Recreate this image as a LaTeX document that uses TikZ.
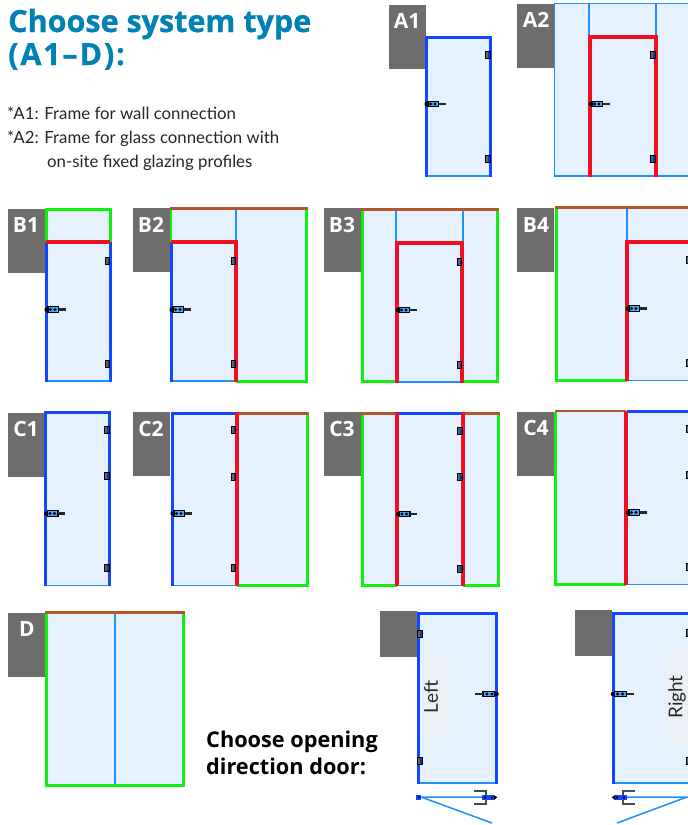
\documentclass[tikz,border=0pt]{standalone}
\usepackage{fontspec}
\setmainfont{Lato}
\newfontfamily\tagfont{Open Sans}
\newfontfamily\titlefont[BoldFeatures={FakeBold=0.8}]{Open Sans}
\definecolor{glass}{HTML}{E5F1FE}
\definecolor{thinblue}{HTML}{1E90FF}
\definecolor{doorblue}{HTML}{1446FF}
\definecolor{framered}{HTML}{F01020}
\definecolor{fixgreen}{HTML}{10F010}
\definecolor{topbrown}{HTML}{B5562A}
\definecolor{taggrey}{HTML}{6E6D6B}
\definecolor{titleblue}{HTML}{0080B4}
\definecolor{notegrey}{HTML}{EBF0F7}
\tikzset{
  x=1pt,y=-1pt,
  tagbox/.style={fill=taggrey,draw=none},
  tagtext/.style={text=white,font=\tagfont\bfseries\fontsize{21}{21}\selectfont,inner sep=0pt,anchor=base},
  pane/.style={fill=glass,draw=none},
  thin line/.style={draw=thinblue,line width=1.3pt},
  door line/.style={draw=doorblue,line width=3pt},
  red line/.style={draw=framered,line width=4pt},
  green line/.style={draw=fixgreen,line width=3pt},
  brown line/.style={draw=topbrown,line width=2.4pt},
  pics/hingepart/.style={code={
    \fill[black!60] (-2.2,-3.6) rectangle (2.2,3.6);
    \fill[doorblue!70!black] (0.4,-3.6) rectangle (2.2,3.6);
    \draw[black,line width=.7pt] (-2.2,-3.6) rectangle (2.2,3.6);
  }},
  pics/handlepart/.style={code={
    \fill[black,rounded corners=1pt] (-1.5,-2) rectangle (4,2);
    \draw[black,line width=1.1pt,fill=thinblue!80] (2,-2.8) rectangle (12.5,2.8);
    \fill[black] (4.5,0) circle (1.6) (9,0) circle (1.6);
    \fill[black!85] (12.5,-1.4) rectangle (19.5,1.4);
  }},
  pics/topview/.style={code={
    \draw[black!70,line width=1.6pt] (23,-6.5) -- (11,-6.5) -- (11,6.5) -- (23,6.5);
    \fill[doorblue] (3,-2.6) rectangle (15,2.6);
    \fill[black] (5,0) circle (1.4) (12,0) circle (1.4) (3,-2.6) -- (0,0) -- (3,2.6) -- cycle;
  }},
}
\begin{document}
\begin{tikzpicture}
\useasboundingbox (0,0) rectangle (688,825);
\clip (0,0) rectangle (688,825);
\fill[white] (0,0) rectangle (688,825);

% heading and notes
\node[anchor=base west,inner sep=0pt,text=titleblue,font=\titlefont\bfseries\fontsize{30.5}{31}\selectfont] (title1) at (8,32) {Choose system type};
\node[anchor=base west,inner sep=0pt,text=titleblue,font=\titlefont\bfseries\fontsize{30.5}{31}\selectfont\addfontfeature{LetterSpace=6}] (title2) at (8,65) {(A1–D):};
\node[anchor=base west,inner sep=0pt,font=\fontsize{16.8}{16.8}\selectfont,text=black!85] (note1) at (7,119) {*A1: Frame for wall connection};
\node[anchor=base west,inner sep=0pt,font=\fontsize{16.8}{16.8}\selectfont,text=black!85] (note2) at (7,143) {*A2: Frame for glass connection with};
\node[anchor=base west,inner sep=0pt,font=\fontsize{16.8}{16.8}\selectfont,text=black!85] (note3) at (47,167) {on-site fixed glazing profiles};
\node[anchor=base west,inner sep=0pt,font=\tagfont\bfseries\fontsize{21.7}{21.7}\selectfont] (ask1) at (206,747) {Choose opening};
\node[anchor=base west,inner sep=0pt,font=\tagfont\bfseries\fontsize{21.7}{21.7}\selectfont] (ask2) at (206,774) {direction door:};

% A1
\fill[tagbox] (389,5) rectangle (425.5,69);
\node[tagtext] (tA1) at (407,28) {A1};
\fill[pane] (426,37) rectangle (490,176);
\draw[thin line] (426,176) -- (490,176);
\draw[door line] (426,176.5) -- (426,37) -- (490,37) -- (490,176.5);
\pic at (488,55) {hingepart};
\pic at (488,158.5) {hingepart};
\pic at (426,104) {handlepart};

% A2
\fill[tagbox] (517,4) rectangle (554,68);
\node[tagtext] (tA2) at (536,27) {A2};
\fill[pane] (554.5,3.5) rectangle (690,176);
\draw[thin line] (690,3.5) -- (554.5,3.5) -- (554.5,176) -- (690,176) (589,3.5) -- (589,37) (656,3.5) -- (656,37);
\draw[red line] (590,177) -- (590,37) -- (655.5,37) -- (655.5,177);
\pic at (653,55) {hingepart};
\pic at (653,159) {hingepart};
\pic at (590,104) {handlepart};

% B1
\fill[tagbox] (8,209) rectangle (45,273);
\node[tagtext] (tB1) at (26,232) {B1};
\fill[pane] (46,209) rectangle (110,381);
\draw[thin line] (46,381) -- (110,381);
\draw[door line] (46,382) -- (46,242) (110,242) -- (110,382);
\draw[green line] (46,242) -- (46,209) -- (110,209) -- (110,242);
\draw[red line] (46,242) -- (110,242);
\pic at (107.5,260.5) {hingepart};
\pic at (107.5,364) {hingepart};
\pic at (46,309.5) {handlepart};

% B2
\fill[tagbox] (133,208) rectangle (170,272);
\node[tagtext] (tB2) at (151,232) {B2};
\fill[pane] (171,209) rectangle (307,381);
\draw[thin line] (236,209) -- (236,242) (171,381) -- (236,381);
\draw[door line] (171,382) -- (171,242);
\draw[green line,line width=2.4pt] (171,242) -- (171,209);
\draw[green line] (236,381) -- (306.5,381) -- (306.5,209);
\draw[brown line] (170,208.5) -- (307.5,208.5);
\draw[red line] (171,242) -- (236,242) -- (236,382);
\pic at (233.5,260.5) {hingepart};
\pic at (233.5,364) {hingepart};
\pic at (171,309.5) {handlepart};

% B3
\fill[tagbox] (324,208) rectangle (361,272);
\node[tagtext] (tB3) at (342,232) {B3};
\fill[pane] (362,210) rectangle (497,382);
\draw[thin line] (396,210) -- (396,242) (463,210) -- (463,242) (397,382) -- (462,382);
\draw[green line] (397,381.5) -- (362,381.5) -- (362,210) (462,381.5) -- (497.5,381.5) -- (497.5,210);
\draw[brown line] (361,209.5) -- (499,209.5);
\draw[red line] (397,383) -- (397,243) -- (462,243) -- (462,383);
\pic at (459.5,261.5) {hingepart};
\pic at (459.5,365) {hingepart};
\pic at (397,310) {handlepart};

% B4
\fill[tagbox] (517,208) rectangle (554,272);
\node[tagtext] (tB4) at (536,232) {B4};
\fill[pane] (556,208) rectangle (690,380);
\draw[thin line] (627,208) -- (627,241) (628,380.5) -- (690,380.5);
\draw[green line] (556,208) -- (556,380) -- (627,380);
\draw[brown line] (555,207.5) -- (690,207.5);
\draw[red line] (627,381) -- (627,241.5) -- (690,241.5);
\pic at (689,260) {hingepart};
\pic at (689,363) {hingepart};
\pic at (627,308.5) {handlepart};

% C1
\fill[tagbox] (8,413) rectangle (44,477);
\node[tagtext] (tC1) at (26,436) {C1};
\fill[pane] (46,412) rectangle (109,585);
\draw[thin line] (45,585.5) -- (110,585.5);
\draw[door line] (45.5,586) -- (45.5,412.5) -- (109.5,412.5) -- (109.5,586);
\pic at (107,430) {hingepart};
\pic at (107,476) {hingepart};
\pic at (107,568) {hingepart};
\pic at (45.5,513.5) {handlepart};

% C2
\fill[tagbox] (133,412) rectangle (170,476);
\node[tagtext] (tC2) at (151,436) {C2};
\fill[pane] (172,413) rectangle (308,585);
\draw[thin line] (172,585.5) -- (236,585.5);
\draw[door line] (172,586) -- (172,413) -- (236,413);
\draw[green line] (237,585) -- (307.5,585) -- (307.5,414);
\draw[brown line] (237,413.5) -- (309,413.5);
\draw[red line] (236.5,412) -- (236.5,586);
\pic at (233.5,430) {hingepart};
\pic at (233.5,476.5) {hingepart};
\pic at (233.5,568) {hingepart};
\pic at (172,513.5) {handlepart};

% C3
\fill[tagbox] (324,412) rectangle (361,476);
\node[tagtext] (tC3) at (342,436) {C3};
\fill[pane] (362,413) rectangle (498,585);
\draw[thin line] (397,585.5) -- (463,585.5);
\draw[green line] (397,585) -- (362,585) -- (362,414) (463,585) -- (498,585) -- (498,414);
\draw[door line] (397,413.5) -- (463,413.5);
\draw[brown line] (361,413.5) -- (397,413.5) (463,413.5) -- (499.5,413.5);
\draw[red line] (397,412) -- (397,586) (463,412) -- (463,586);
\pic at (460,430.5) {hingepart};
\pic at (460,476.5) {hingepart};
\pic at (460,568.5) {hingepart};
\pic at (397.5,514) {handlepart};

% C4
\fill[tagbox] (517,412) rectangle (554,476);
\node[tagtext] (tC4) at (536,435) {C4};
\fill[pane] (555,412) rectangle (690,584);
\draw[thin line] (627,584.5) -- (690,584.5);
\draw[green line] (626,584) -- (555.5,584) -- (555.5,412);
\draw[door line] (627,411.5) -- (690,411.5);
\draw[brown line] (554.5,411) -- (626,411);
\draw[red line] (626,410.5) -- (626,585);
\pic at (689,429) {hingepart};
\pic at (689,475) {hingepart};
\pic at (689,567) {hingepart};
\pic at (627,512.5) {handlepart};

% D
\fill[tagbox] (8,613) rectangle (45,677);
\node[tagtext] (tD) at (27,636) {D};
\fill[pane] (46,613) rectangle (184,786);
\draw[thin line] (115,613) -- (115,786);
\draw[green line] (46.5,613) -- (46.5,785.5) -- (183.5,785.5) -- (183.5,613);
\draw[brown line] (45,612.5) -- (185,612.5);

% Left door
\fill[tagbox] (380,611) rectangle (417,657);
\fill[pane] (418,612) rectangle (497,783);
\fill[notegrey] (421,657) rectangle (450,737);
\node[rotate=90,inner sep=0pt,font=\fontsize{19}{19}\selectfont,text=black!85] (tLeft) at (431,697) {Left};
\draw[thin line] (417,783) -- (497,783);
\draw[door line] (418,784) -- (418,613) -- (496,613) -- (496,784);
\pic at (420,634) {hingepart};
\pic at (420,761) {hingepart};
\pic[xscale=-1.12] at (497,694) {handlepart};
\coordinate (lp) at (417,797);
\coordinate (lt) at (421,797);
\coordinate (lq) at (497,797);
\coordinate (lr) at (492,823);
\draw[thinblue,line width=1.5pt] (lp) -- (lq) (lt) -- (lr);
\fill[doorblue] (416,795) rectangle (421,799.5);
\fill[black] (419,797) circle (1);
\pic[xscale=-1] at (497,797.5) {topview};

% Right door
\fill[tagbox] (575,610) rectangle (612,656);
\fill[pane] (613,612) rectangle (690,783);
\fill[notegrey] (668,650) rectangle (690,745);
\node[rotate=90,inner sep=0pt,font=\fontsize{19}{19}\selectfont,text=black!85] (tRight) at (677,697) {Right};
\draw[thin line] (612,783) -- (690,783);
\draw[door line] (613,784) -- (613,613) -- (690,613);
\pic at (689,633) {hingepart};
\pic at (689,761) {hingepart};
\pic[xscale=1.12] at (612.5,694) {handlepart};
\coordinate (rp) at (690,797);
\coordinate (rt) at (687,797);
\coordinate (rq) at (612,797);
\coordinate (rr) at (617,823);
\draw[thinblue,line width=1.5pt] (rp) -- (rq) (rt) -- (rr);
\pic at (612,797.5) {topview};
\end{tikzpicture}
\end{document}
